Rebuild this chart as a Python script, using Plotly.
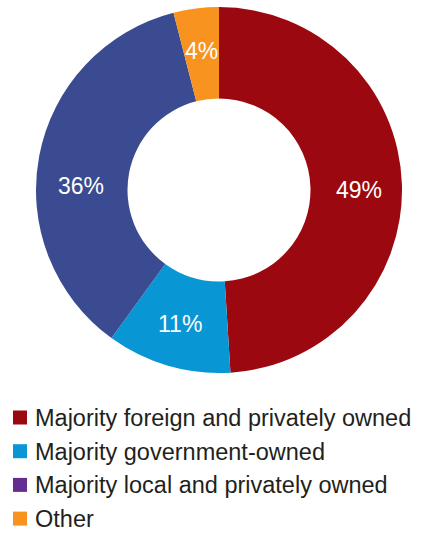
import math
import plotly.graph_objects as go

labels = ["Majority foreign and privately owned", "Majority government-owned",
          "Majority local and privately owned", "Other"]
values = [49, 11, 36, 4]
slice_colors = ["#9b0810", "#0896d5", "#3a4b91", "#f7931e"]
legend_colors = ["#9b0810", "#0896d5", "#662d91", "#f7931e"]
text_labels = ["49%", "11%", "36%", "4%"]

W, H = 426, 533
cx, cy, R = 219, 190, 183
HOLE = 0.50
FONT = "Liberation Sans, Arial, Helvetica, sans-serif"
TXT = "#231f20"
label_yshift = [-4, 0, -22, 0]   # small vertical nudges of the % labels (px)

fig = go.Figure()
fig.add_trace(go.Pie(
    labels=labels, values=values, textinfo="none",
    sort=False, direction="clockwise", rotation=0, hole=HOLE,
    marker=dict(colors=slice_colors, line=dict(width=0)),
    showlegend=False, hoverinfo="label+percent",
    domain=dict(x=[(cx - R) / W, (cx + R) / W], y=[1 - (cy + R) / H, 1 - (cy - R) / H]),
))

# percentage labels at the middle angle of each slice
total = sum(values)
cum = 0
r_lab = 140
for v, t, ys in zip(values, text_labels, label_yshift):
    mid = (cum + v / 2) / total * 2 * math.pi
    cum += v
    px = cx + r_lab * math.sin(mid)
    py = cy - r_lab * math.cos(mid)
    fig.add_annotation(x=px / W, y=1 - py / H, xref="paper", yref="paper",
                       text=t, showarrow=False, xanchor="center", yanchor="middle",
                       yshift=ys, font=dict(color="white", size=23, family=FONT))

# legend (drawn as squares + text so it fits the page exactly)
leg_x0, leg_sq, leg_y0, leg_dy = 13, 14, 417.5, 33.7
for i, (lab, col) in enumerate(zip(labels, legend_colors)):
    yc = leg_y0 + i * leg_dy
    fig.add_shape(type="rect", xref="paper", yref="paper",
                  x0=leg_x0 / W, x1=(leg_x0 + leg_sq) / W,
                  y0=1 - (yc + leg_sq / 2) / H, y1=1 - (yc - leg_sq / 2) / H,
                  fillcolor=col, line=dict(width=0))
    fig.add_annotation(x=34 / W, y=1 - (yc + 0.5) / H, xref="paper", yref="paper",
                       text=lab, showarrow=False, xanchor="left", yanchor="middle",
                       borderpad=0, font=dict(color=TXT, size=23.5, family=FONT))

fig.update_layout(
    width=W, height=H, margin=dict(l=0, r=0, t=0, b=0),
    paper_bgcolor="white", plot_bgcolor="white",
    font=dict(family=FONT, color=TXT),
    showlegend=False,
)
fig.write_html("out.html")
